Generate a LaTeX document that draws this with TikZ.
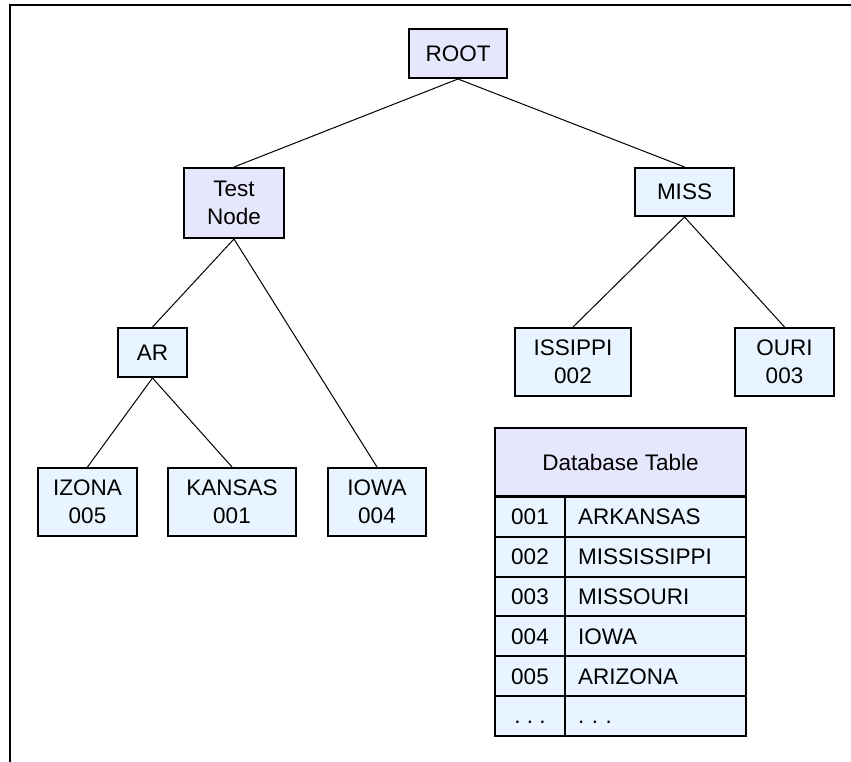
\documentclass[tikz,border=0pt]{standalone}
\usepackage{fontspec}
\setmainfont{Liberation Sans}
\usetikzlibrary{positioning}
\definecolor{rootfill}{RGB}{230,230,252}
\definecolor{nodefill}{RGB}{232,244,255}
\newcommand{\treefont}{\fontsize{22.5}{28}\selectfont}
\tikzset{
	box/.style={rectangle,draw=black,line width=2pt,fill=nodefill,align=center,inner sep=0pt,font=\treefont},
	topbox/.style={box,fill=rootfill},
	keycell/.style={box,minimum width=70pt,minimum height=39.8pt,text height=16pt,text depth=0pt},
	valcell/.style={box,minimum width=181pt,minimum height=39.8pt,text width=155pt,align=left,text height=16pt,text depth=0pt},
	link/.style={line width=1pt}
}
\begin{document}
\begin{tikzpicture}[x=1pt,y=1pt,on grid]
		\useasboundingbox (0,0) rectangle (851,-762);
		\draw[line width=2pt] (9.5,-762) |- (851,-5);

		\node[topbox,minimum width=98pt,minimum height=49pt] (root) at (458,-53.5) {ROOT};
		\node[topbox,minimum width=100pt,minimum height=70pt,below left=149.5pt and 224pt of root] (testnode) {Test\\Node};
		\node[box,minimum width=99pt,minimum height=48pt,below right=138.5pt and 226.5pt of root] (miss) {MISS};

		\node[box,minimum width=69pt,minimum height=49pt,below left=149.5pt and 81.5pt of testnode] (ar) {AR};
		\node[box,minimum width=98pt,minimum height=68pt,below right=299pt and 143pt of testnode] (iowa) {IOWA\\004};
		\node[box,minimum width=99pt,minimum height=68pt,below left=149.5pt and 65pt of ar] (izona) {IZONA\\005};
		\node[box,minimum width=128pt,minimum height=68pt,below right=149.5pt and 79.5pt of ar] (kansas) {KANSAS\\001};

		\node[box,minimum width=116pt,minimum height=68pt,below left=170pt and 111.5pt of miss] (issippi) {ISSIPPI\\002};
		\node[box,minimum width=99pt,minimum height=68pt,below right=170pt and 100pt of miss] (ouri) {OURI\\003};

		% lookup table
		\node[topbox,minimum width=251pt,minimum height=68pt,below right=100pt and 47.5pt of issippi] (dbhead) {Database Table};
		\node[keycell,below left=54.9pt and 90.5pt of dbhead] (key1) {001};
		\node[valcell,right=125.5pt of key1] (val1) {ARKANSAS};
		\node[keycell,below=39.8pt of key1] (key2) {002};
		\node[valcell,right=125.5pt of key2] (val2) {MISSISSIPPI};
		\node[keycell,below=39.8pt of key2] (key3) {003};
		\node[valcell,right=125.5pt of key3] (val3) {MISSOURI};
		\node[keycell,below=39.8pt of key3] (key4) {004};
		\node[valcell,right=125.5pt of key4] (val4) {IOWA};
		\node[keycell,below=39.8pt of key4] (key5) {005};
		\node[valcell,right=125.5pt of key5] (val5) {ARIZONA};
		\node[keycell,below=39.8pt of key5] (key6) {.\ .\ .};
		\node[valcell,right=125.5pt of key6] (val6) {.\ .\ .};

		\draw[link] (root.south) -- (testnode.north);
		\draw[link] (root.south) -- (miss.north);
		\draw[link] (testnode.south) -- (ar.north);
		\draw[link] (testnode.south) -- (iowa.north);
		\draw[link] (ar.south) -- (izona.north);
		\draw[link] (ar.south) -- (kansas.north);
		\draw[link] (miss.south) -- (issippi.north);
		\draw[link] (miss.south) -- (ouri.north);
\end{tikzpicture}
\end{document}
